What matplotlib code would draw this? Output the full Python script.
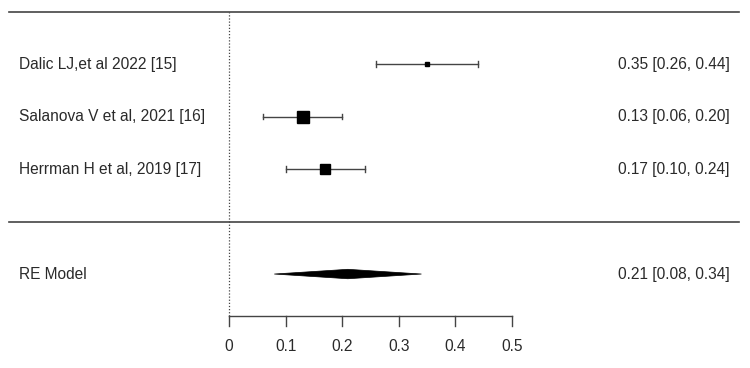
import matplotlib.pyplot as plt
from matplotlib.patches import Polygon

plt.rcParams['font.family'] = ['Liberation Sans', 'DejaVu Sans']

# study data (effect size with 95% CI)
studies = ['Dalic LJ,et al 2022 [15]', 'Salanova V et al, 2021 [16]', 'Herrman H et al, 2019 [17]']
est = [0.35, 0.13, 0.17]
ci_lo = [0.26, 0.06, 0.10]
ci_hi = [0.44, 0.20, 0.24]
weights = [0.33, 1.0, 0.83]  # relative weights -> square size

re_label = 'RE Model'
re_est, re_lo, re_hi = 0.21, 0.08, 0.34

xticks = [0, 0.1, 0.2, 0.3, 0.4, 0.5]
xtick_labels = ['0', '0.1', '0.2', '0.3', '0.4', '0.5']

fig = plt.figure(figsize=(7.5, 3.68), dpi=100)
ax = fig.add_axes([0, 0, 1, 1])
ax.set_xlim(-0.4046, 0.9205)
ax.set_ylim(-2.79, 4.22)
ax.axis('off')

line_col = '#444444'
txt_col = '#2a2a2a'
fs = 11.2

rows = [3, 2, 1]
re_row = -1

# horizontal separators
ax.plot([-0.389, 0.901], [4, 4], color=line_col, lw=1.2)
ax.plot([-0.389, 0.901], [0, 0], color=line_col, lw=1.2)

# reference line at 0
ax.plot([0, 0], [-1.8, 4], color=line_col, lw=0.9, linestyle=(0, (1, 1.5)))

for name, e, lo, hi, w, y in zip(studies, est, ci_lo, ci_hi, weights, rows):
    ax.plot([lo, hi], [y, y], color=line_col, lw=1)
    ax.plot([lo, lo], [y - 0.05, y + 0.05], color=line_col, lw=1)
    ax.plot([hi, hi], [y - 0.05, y + 0.05], color=line_col, lw=1)
    ax.plot([e], [y], marker='s', color='black', markersize=8.6 * w, linestyle='none')
    ax.text(-0.371, y, name, ha='left', va='center', fontsize=fs, color=txt_col)
    ax.text(0.687, y, f'{e:.2f} [{lo:.2f}, {hi:.2f}]', ha='left', va='center',
            fontsize=fs, color=txt_col)

# summary diamond
h = 0.09
diamond = Polygon([[re_lo, re_row], [re_est, re_row + h], [re_hi, re_row], [re_est, re_row - h]],
                  closed=True, facecolor='black', edgecolor='black', lw=0.5)
ax.add_patch(diamond)
ax.text(-0.371, re_row, re_label, ha='left', va='center', fontsize=fs, color=txt_col)
ax.text(0.687, re_row, f'{re_est:.2f} [{re_lo:.2f}, {re_hi:.2f}]', ha='left', va='center',
        fontsize=fs, color=txt_col)

# x axis
ax.plot([xticks[0], xticks[-1]], [-1.8, -1.8], color=line_col, lw=1)
for t, lab in zip(xticks, xtick_labels):
    ax.plot([t, t], [-1.8, -1.99], color=line_col, lw=1)
    ax.text(t, -2.38, lab, ha='center', va='center', fontsize=fs, color=txt_col)

fig.savefig('out.png', dpi=100)
